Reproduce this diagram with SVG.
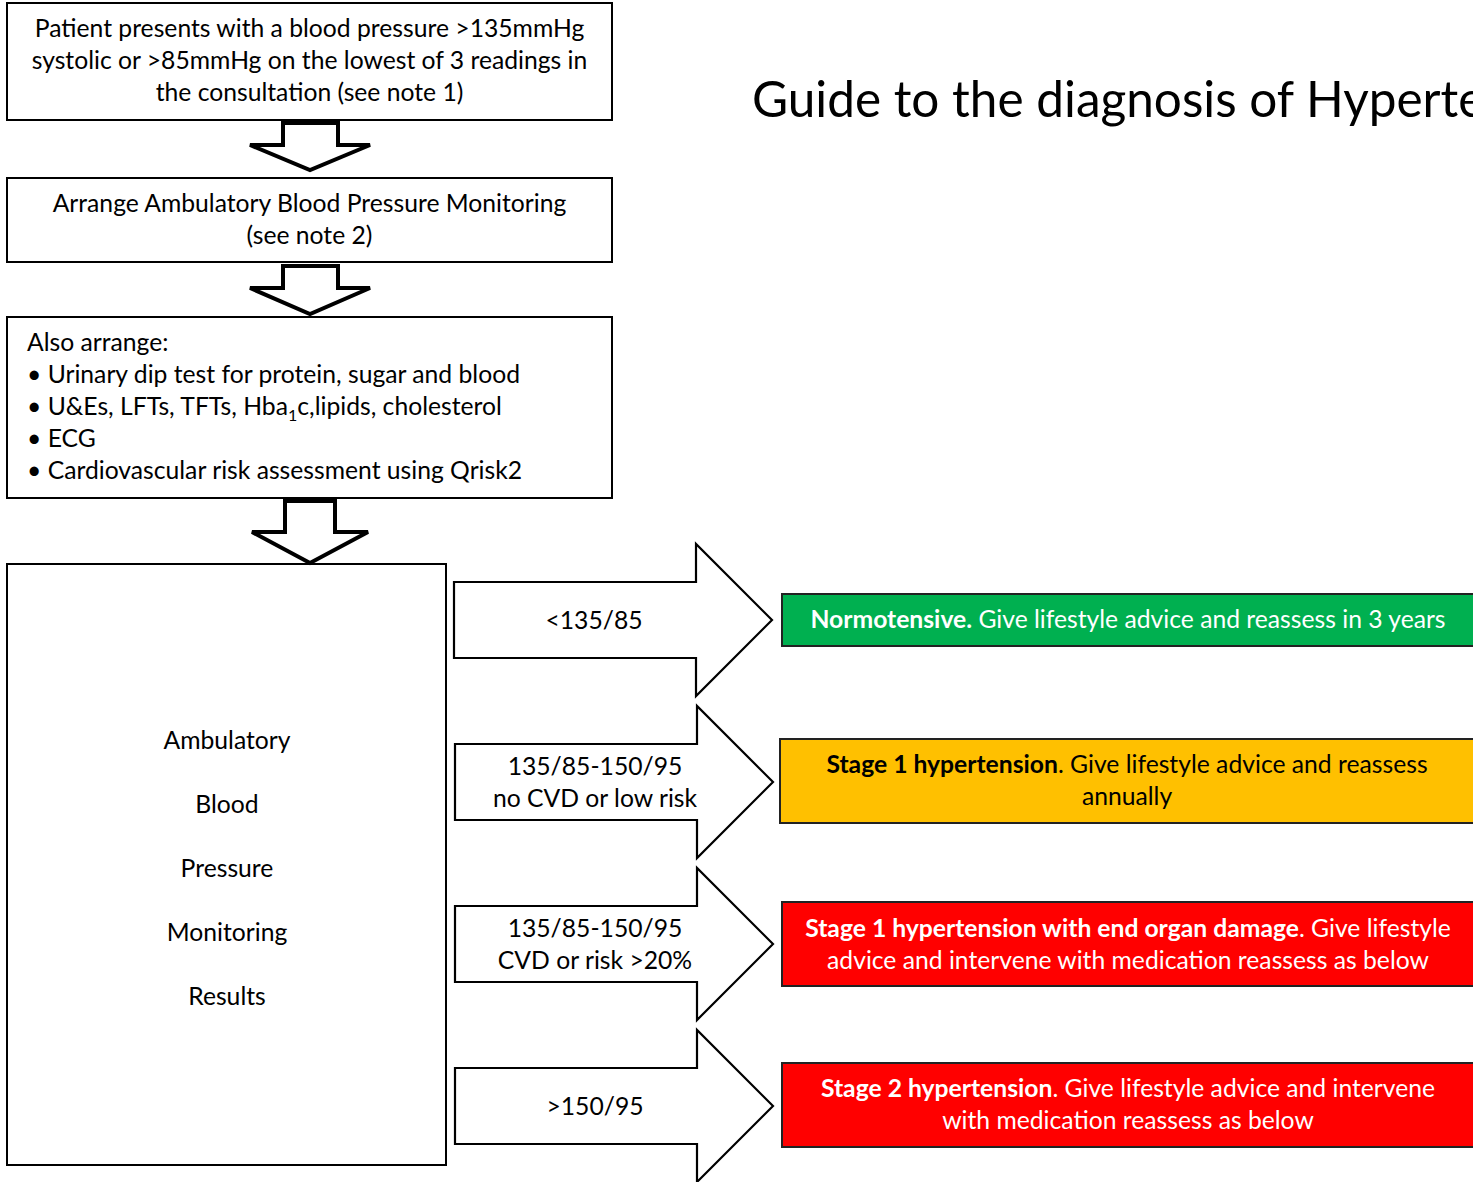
<svg xmlns="http://www.w3.org/2000/svg" width="1473" height="1182" viewBox="0 0 1473 1182">
<style>
text{font-family:Lato,"Open Sans","Liberation Sans",sans-serif;font-size:24.7px;fill:#000}
.c{text-anchor:middle}
.w{fill:#fff}
.b{font-weight:bold}
.box{fill:#fff;stroke:#000;stroke-width:2}
.down{fill:#fff;stroke:#000;stroke-width:4;stroke-linejoin:miter}
.right{fill:#fff;stroke:#000;stroke-width:2.2;stroke-linejoin:miter}
.res{stroke:#222;stroke-width:2}
.title{font-size:49.5px}
</style>
<rect width="1473" height="1182" fill="#fff"/>
<text class="title" x="752" y="117">Guide to the diagnosis of Hypertension</text>

<g id="n1">
<rect class="box" x="7" y="3" width="605" height="117"/>
<text class="c" x="309.5" y="37">Patient presents with a blood pressure &gt;135mmHg</text>
<text class="c" x="309.5" y="69">systolic or &gt;85mmHg on the lowest of 3 readings in</text>
<text class="c" x="309.5" y="101">the consultation (see note 1)</text>
</g>
<g id="n2">
<rect class="box" x="7" y="178" width="605" height="84"/>
<text class="c" x="309.5" y="212">Arrange Ambulatory Blood Pressure Monitoring</text>
<text class="c" x="309.5" y="244">(see note 2)</text>
</g>
<g id="n3">
<rect class="box" x="7" y="317" width="605" height="181"/>
<text x="27" y="351">Also arrange:</text>
<text x="27" y="383">• Urinary dip test for protein, sugar and blood</text>
<text x="27" y="415">• U&amp;Es, LFTs, TFTs, Hba<tspan font-size="16" dy="6">1</tspan><tspan dy="-6">c,lipids, cholesterol</tspan></text>
<text x="27" y="447">• ECG</text>
<text x="27" y="479">• Cardiovascular risk assessment using Qrisk2</text>
</g>
<g id="n4">
<rect class="box" x="7" y="564" width="439" height="601"/>
<text class="c" x="227" y="749">Ambulatory</text>
<text class="c" x="227" y="813">Blood</text>
<text class="c" x="227" y="877">Pressure</text>
<text class="c" x="227" y="941">Monitoring</text>
<text class="c" x="227" y="1005">Results</text>
</g>

<g id="r1">
<rect class="res" x="782" y="594" width="700" height="52" fill="#00B050"/>
<text class="c w" x="1128" y="628"><tspan class="b">Normotensive.</tspan> Give lifestyle advice and reassess in 3 years</text>
</g>
<g id="r2">
<rect class="res" x="780" y="739" width="702" height="84" fill="#FFC000"/>
<text class="c" x="1127" y="773"><tspan class="b">Stage 1 hypertension</tspan>. Give lifestyle advice and reassess</text>
<text class="c" x="1127" y="805">annually</text>
</g>
<g id="r3">
<rect class="res" x="782" y="902" width="700" height="84" fill="#FF0000"/>
<text class="c w" x="1128" y="937"><tspan class="b">Stage 1 hypertension with end organ damage</tspan>. Give lifestyle</text>
<text class="c w" x="1128" y="969">advice and intervene with medication reassess as below</text>
</g>
<g id="r4">
<rect class="res" x="782" y="1063" width="700" height="84" fill="#FF0000"/>
<text class="c w" x="1128" y="1097"><tspan class="b">Stage 2 hypertension</tspan>. Give lifestyle advice and intervene</text>
<text class="c w" x="1128" y="1129">with medication reassess as below</text>
</g>

<g id="connectors">
<path class="down" d="M283 123 H338 V145 H370 L310 170 L250 145 H283 Z"/>
<path class="down" d="M283 266 H338 V288 H370 L310 314 L250 288 H283 Z"/>
<path class="down" d="M285 501 H335 V532 H368 L310 563 L252 532 H285 Z"/>
<g id="a1">
<path class="right" d="M454 582 H696 V544 L772 620 L696 696 V658 H454 Z"/>
<text class="c" x="594" y="629">&lt;135/85</text>
</g>
<g id="a2">
<path class="right" d="M455 744 H697 V706 L773 782 L697 858 V820 H455 Z"/>
<text class="c" x="595" y="775">135/85-150/95</text>
<text class="c" x="595" y="807">no CVD or low risk</text>
</g>
<g id="a3">
<path class="right" d="M455 906 H697 V868 L773 944 L697 1020 V982 H455 Z"/>
<text class="c" x="595" y="937">135/85-150/95</text>
<text class="c" x="595" y="969">CVD or risk &gt;20%</text>
</g>
<g id="a4">
<path class="right" d="M455 1068 H697 V1030 L773 1106 L697 1182 V1144 H455 Z"/>
<text class="c" x="595" y="1115">&gt;150/95</text>
</g>
</g>
</svg>
